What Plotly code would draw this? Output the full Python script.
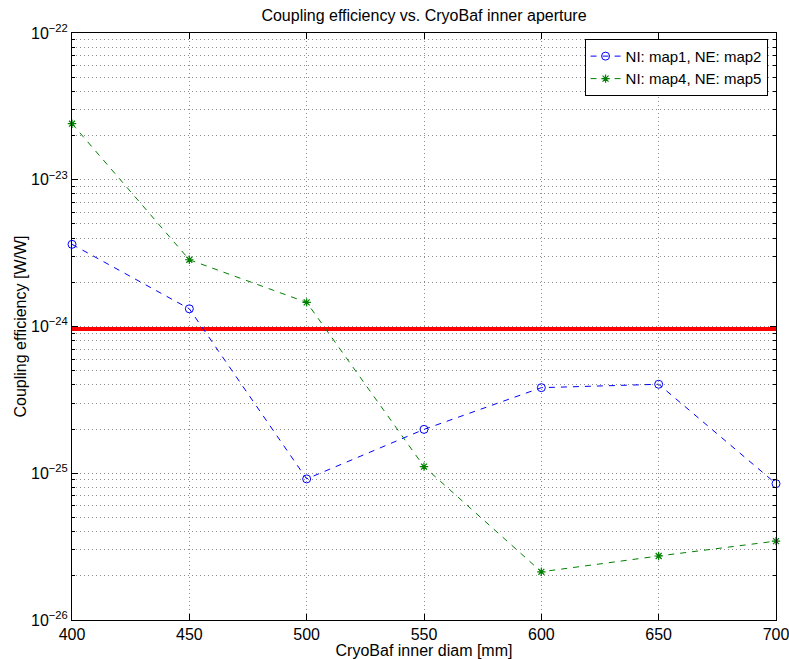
import plotly.graph_objects as go

diam = [400, 450, 500, 550, 600, 650, 700]
map12 = [3.63e-24, 1.32e-24, 9.15e-26, 1.99e-25, 3.83e-25, 4.04e-25, 8.49e-26]
map45 = [2.41e-23, 2.85e-24, 1.46e-24, 1.11e-25, 2.13e-26, 2.73e-26, 3.45e-26]
limit_x = [400, 700]
limit_y = [9.6e-25, 9.6e-25]
xticks = [400, 450, 500, 550, 600, 650, 700]
ydecades = [1e-26, 1e-25, 1e-24, 1e-23, 1e-22]
ylabels = ["10<sup>−26</sup>", "10<sup>−25</sup>", "10<sup>−24</sup>", "10<sup>−23</sup>", "10<sup>−22</sup>"]

FONT = "Liberation Sans, Arial, Helvetica, sans-serif"
GRID = "#8c8c8c"
GDASH = "1px,3px"

W, H = 789, 659

fig = go.Figure()
fig.add_trace(go.Scatter(
    x=limit_x, y=limit_y, mode="lines", showlegend=False,
    line=dict(color="red", width=4), cliponaxis=False,
))
fig.add_trace(go.Scatter(
    x=diam, y=map12, mode="lines+markers", name="NI: map1, NE: map2",
    line=dict(color="blue", width=1, dash="6px,6px"),
    marker=dict(symbol="circle-open", size=8, color="blue", line=dict(width=1)),
    cliponaxis=False,
))
fig.add_trace(go.Scatter(
    x=diam, y=map45, mode="lines+markers", name="NI: map4, NE: map5",
    line=dict(color="green", width=1, dash="6px,6px"),
    marker=dict(symbol="asterisk-open", size=7, color="green", line=dict(width=1.2, color="green")),
    cliponaxis=False,
))

axis_common = dict(
    showline=True, linecolor="black", linewidth=1, mirror="allticks",
    ticks="inside", tickcolor="black", ticklen=6,
    showgrid=True, gridcolor=GRID, griddash=GDASH, gridwidth=1,
    zeroline=False, automargin=False, ticklabeloverflow="allow",
    tickfont=dict(size=16, color="black", family=FONT),
)

fig.update_xaxes(
    range=[400, 700], tickvals=xticks, ticktext=[str(v) for v in xticks],
    title=dict(text="CryoBaf inner diam [mm]", font=dict(size=16, color="black", family=FONT), standoff=0),
    **axis_common,
)
fig.update_yaxes(
    type="log", range=[-26, -22], tickvals=ydecades, ticktext=ylabels,
    title=dict(text="Coupling efficiency [W/W]", font=dict(size=16, color="black", family=FONT), standoff=0),
    minor=dict(dtick="D1", showgrid=True, gridcolor=GRID, griddash=GDASH,
               ticks="inside", ticklen=3, tickcolor="black"),
    **axis_common,
)

fig.update_layout(
    width=W, height=H,
    margin=dict(l=72, r=13, t=33, b=39),
    paper_bgcolor="white", plot_bgcolor="white",
    font=dict(family=FONT, color="black", size=16),
    title=dict(text="Coupling efficiency vs. CryoBaf inner aperture", x=0.5, xanchor="center", xref="paper",
               y=1 - 15 / H, yref="container", yanchor="middle",
               font=dict(size=16, color="black", family=FONT)),
    legend=dict(x=0.988, y=0.99, xanchor="right", yanchor="top",
                bgcolor="white", bordercolor="black", borderwidth=1,
                font=dict(size=15, color="black", family=FONT),
                tracegroupgap=0, itemwidth=30),
    showlegend=True,
)

fig.write_html("out.html", config={"displayModeBar": False},
               post_script="document.body.style.margin='0px';document.body.style.overflow='hidden';")
